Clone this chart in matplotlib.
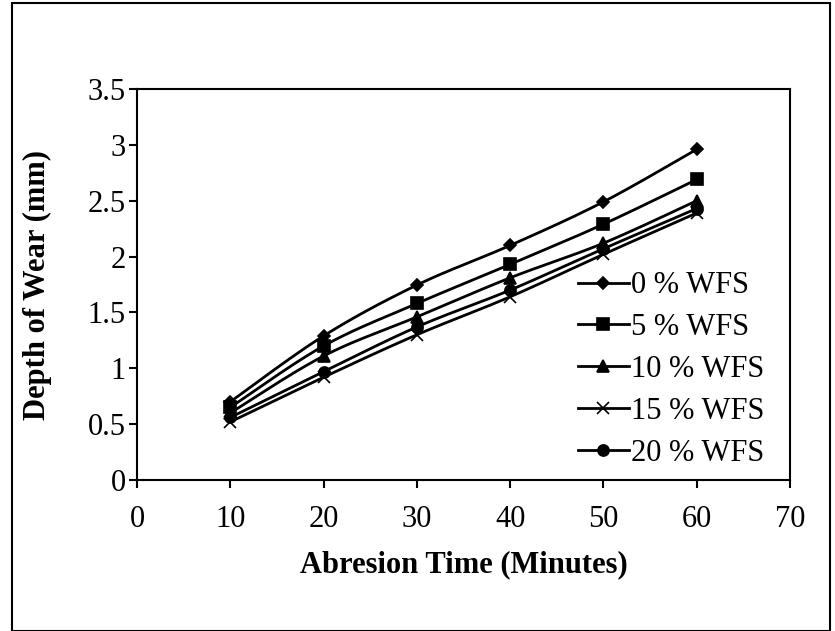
import numpy as np
import matplotlib
matplotlib.use("Agg")
import matplotlib.pyplot as plt
from matplotlib.patches import Rectangle

plt.rcParams["font.family"] = ["Liberation Serif", "DejaVu Serif"]

time_min = [10, 20, 30, 40, 50, 60]
wfs_0 = [0.70, 1.29, 1.745, 2.10, 2.49, 2.96]
wfs_5 = [0.65, 1.20, 1.58, 1.93, 2.29, 2.69]
wfs_10 = [0.60, 1.11, 1.46, 1.81, 2.12, 2.50]
wfs_15 = [0.52, 0.92, 1.30, 1.64, 2.02, 2.39]
wfs_20 = [0.56, 0.97, 1.37, 1.70, 2.07, 2.43]
labels = ["0 % WFS", "5 % WFS", "10 % WFS", "15 % WFS", "20 % WFS"]
markers = ["D", "s", "^", "x", "o"]
msizes = [6, 8, 8, 8, 8]


def smooth(x, y, n=30, tension=1 / 6):
    # cardinal-spline through the points (spreadsheet-style smoothed line)
    x = np.asarray(x, float)
    y = np.asarray(y, float)
    px = np.concatenate([[x[0]], x, [x[-1]]])
    py = np.concatenate([[y[0]], y, [y[-1]]])
    xs, ys = [], []
    t = np.linspace(0, 1, n)
    for i in range(1, len(px) - 2):
        p0 = np.array([px[i], py[i]])
        p3 = np.array([px[i + 1], py[i + 1]])
        c1 = p0 + tension * (p3 - np.array([px[i - 1], py[i - 1]]))
        c2 = p3 - tension * (np.array([px[i + 2], py[i + 2]]) - p0)
        b = ((1 - t) ** 3)[:, None] * p0 + (3 * (1 - t) ** 2 * t)[:, None] * c1 \
            + (3 * (1 - t) * t ** 2)[:, None] * c2 + (t ** 3)[:, None] * p3
        xs.append(b[:, 0])
        ys.append(b[:, 1])
    return np.concatenate(xs), np.concatenate(ys)


fig = plt.figure(figsize=(8.35, 6.31), dpi=100)
ax = fig.add_axes([137 / 835, 1 - 480 / 631, (790 - 137) / 835, (480 - 89) / 631])

series = [wfs_0, wfs_5, wfs_10, wfs_15, wfs_20]
for vals, lab, m, ms in zip(series, labels, markers, msizes):
    sx, sy = smooth(time_min, vals)
    ax.plot(sx, sy, color="black", lw=2)
    ax.plot(time_min, vals, ls="none", marker=m, ms=ms, color="black", mew=1.2)
    ax.plot([], [], color="black", lw=2, marker=m, ms=ms, mew=1.2, label=lab)

ax.set_xlim(0, 70)
ax.set_ylim(0, 3.5)
ax.set_xticks(np.arange(0, 71, 10))
ax.set_yticks(np.arange(0, 3.51, 0.5))
ax.set_yticklabels(["0", "0.5", "1", "1.5", "2", "2.5", "3", "3.5"])
ax.tick_params(direction="out", length=6, width=1.5, labelsize=22)
ax.tick_params(axis="x", pad=12)
ax.tick_params(axis="y", pad=2)
for s in ax.spines.values():
    s.set_linewidth(1.5)
ax.set_xlabel("Abresion Time (Minutes)", fontsize=22, fontweight="bold", labelpad=12)
ax.set_ylabel("Depth of Wear (mm)", fontsize=22, fontweight="bold", labelpad=26)

ax.legend(loc="upper left", bbox_to_anchor=(563 / 835, 1 - 256 / 631),
          bbox_transform=fig.transFigure, frameon=False, fontsize=22,
          handlelength=1.65, handletextpad=0.08, labelspacing=0.42, borderpad=0)

fig.patches.append(Rectangle((12 / 835, 0), (830 - 12) / 835, 1 - 3 / 631,
                             transform=fig.transFigure, fill=False,
                             edgecolor="black", lw=1.5))

fig.savefig("out.png", dpi=100)
